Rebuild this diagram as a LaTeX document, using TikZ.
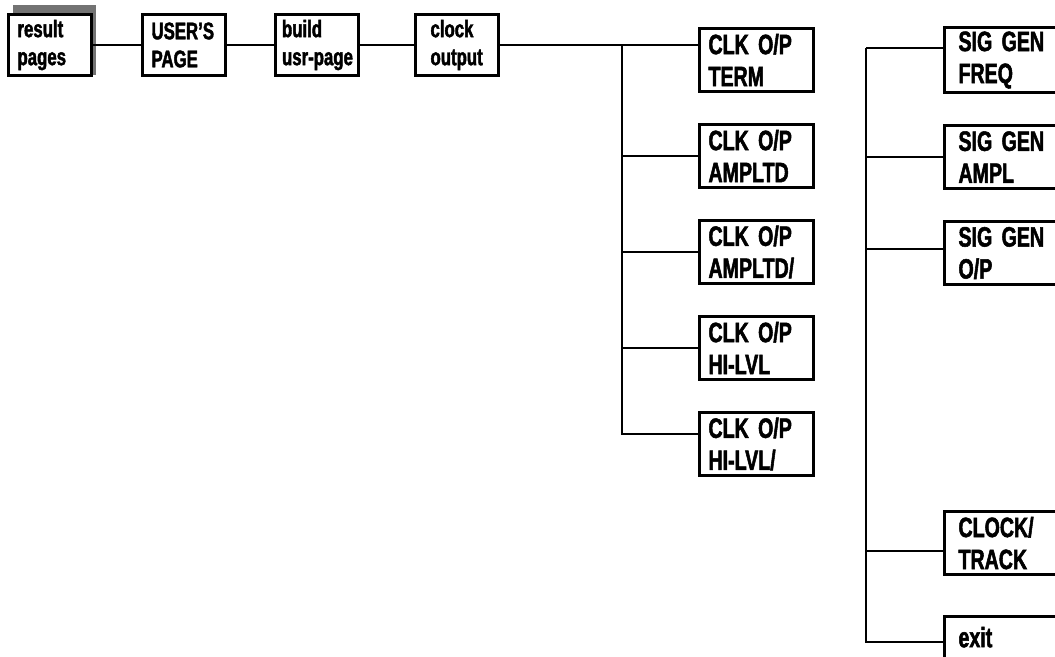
\documentclass[tikz,border=0pt]{standalone}
\usepackage{fontspec}
\setmainfont{Liberation Sans}[FakeStretch=0.7, WordSpace=0.6, BoldFeatures={FakeBold=1.8}]
\usetikzlibrary{positioning,backgrounds}

\begin{document}
\begin{tikzpicture}[
  x=.5pt, y=-.5pt,
  node distance=15pt and 24pt,
  pagebox/.style={draw, fill=white, line width=1.5pt, align=left,
    inner xsep=4.5pt, inner ysep=2pt, text width=32.5pt, minimum height=30.5pt,
    font=\fontsize{12}{14}\selectfont\bfseries},
  menubox/.style={draw, fill=white, line width=1.5pt, align=left,
    inner xsep=4.5pt, inner ysep=2pt, text width=48pt, minimum height=31.5pt,
    font=\fontsize{14}{16}\selectfont\bfseries},
  sigbox/.style={menubox, inner xsep=7pt, text width=43pt},
  link/.style={line width=1.4pt}
]
\useasboundingbox (0,0) rectangle (1055,657);
\clip (0,0) rectangle (1055,657);

\node[pagebox, anchor=north west] (result) at (7,13) {result\\pages};
\node[pagebox, right=of result] (user) {USER'S\\PAGE};
\node[pagebox, right=23.5pt of user, inner xsep=3.25pt, text width=35pt] (build) {build\\\mbox{usr-page}};
\node[pagebox, right=27pt of build, inner xsep=7.5pt, text width=26.5pt] (clock) {clock\\output};

\node[menubox, anchor=north west] (term) at (698,27) {CLK O/P\\TERM};
\node[menubox, below=of term] (ampltd) {CLK O/P\\AMPLTD};
\node[menubox, below=of ampltd] (ampltdb) {CLK O/P\\AMPLTD/};
\node[menubox, below=of ampltdb] (hilvl) {CLK O/P\\HI-LVL};
\node[menubox, below=of hilvl] (hilvlb) {CLK O/P\\HI-LVL/};

\node[sigbox, anchor=north west] (freq) at (943,26) {SIG GEN\\FREQ};
\node[sigbox, below=of freq] (sigampl) {SIG GEN\\AMPL};
\node[sigbox, below=of sigampl] (sigop) {SIG GEN\\O/P};
\node[sigbox, below=112pt of sigop] (track) {CLOCK/\\TRACK};
\node[sigbox, below=19.5pt of track, text depth=11pt] (exit) {exit};

\draw[link] (result) -- (user);
\draw[link] (user) -- (build);
\draw[link] (build) -- (clock);
\draw[link] (clock.east) -- (clock.east -| term.west);

\coordinate (clkbus) at ([xshift=61pt]clock.east);
\draw[link] (clkbus) |- ([yshift=5pt]hilvlb.west);
\foreach \n in {ampltd,ampltdb,hilvl}
  \draw[link] (clkbus |- \n.west) -- (\n.west);

\coordinate (sigbus) at ([xshift=-38.5pt,yshift=6pt]freq.west);
\draw[link] (sigbus) -- ([yshift=6pt]freq.west);
\draw[link] (sigbus) |- ([yshift=3pt]exit.west);
\draw[link] (sigbus |- sigampl.west) -- (sigampl.west);
\draw[link] (sigbus |- sigop.west) ++(0,-4) -- ([yshift=2pt]sigop.west);
\draw[link] (sigbus |- track.west) ++(0,8) -- ([yshift=-4pt]track.west);

\begin{scope}[on background layer]
  \fill[black!55] ([xshift=3pt,yshift=1pt]result.south west) rectangle ([xshift=1.5pt,yshift=4pt]result.north east);
\end{scope}

\end{tikzpicture}
\end{document}
